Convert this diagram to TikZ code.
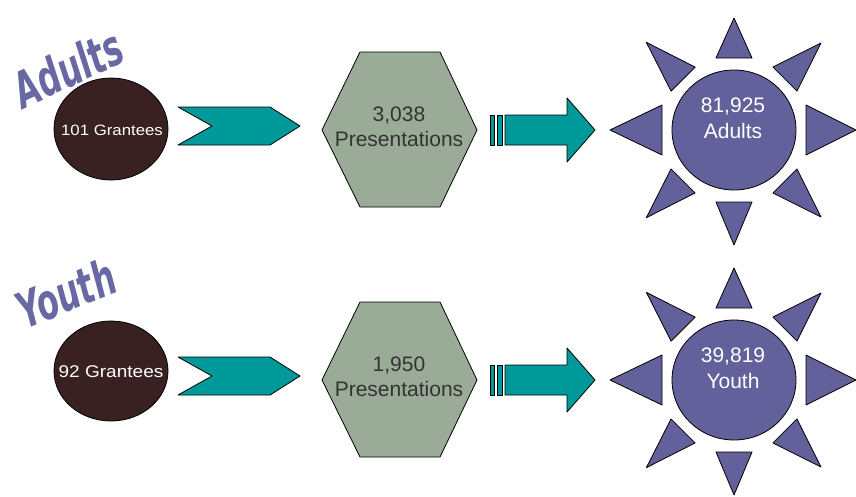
\documentclass[tikz,border=0pt]{standalone}
\usepackage{fontspec}
\setmainfont{Liberation Sans}
\newfontfamily\wafont{DejaVu Sans}
\usetikzlibrary{shapes.geometric}
\definecolor{wordc}{RGB}{104,104,164}
\definecolor{sunc}{RGB}{99,97,155}
\definecolor{granteec}{RGB}{58,33,33}
\definecolor{hexc}{RGB}{154,171,151}
\definecolor{tealc}{RGB}{0,153,153}
\tikzset{
  grantee/.style={ellipse, draw=black, line width=0.8pt, fill=granteec, minimum width=114pt, minimum height=102pt, inner sep=0pt},
  granteelbl/.style={text=white, inner sep=0pt},
  hexshape/.style={draw=black, fill=hexc, line width=0.8pt, line join=round},
  hexlbl/.style={align=center, inner sep=0pt, font=\fontsize{21}{25}\selectfont, text=black!80},
  tealshape/.style={draw=black, fill=tealc, line width=0.8pt, line join=round},
  suncore/.style={ellipse, draw=black, line width=0.8pt, fill=sunc, minimum width=124pt, minimum height=120pt, inner sep=0pt},
  sunlbl/.style={align=center, inner sep=0pt, font=\fontsize{21}{26}\selectfont, text=white},
  ray/.style={draw=black, fill=sunc, line width=0.8pt, line join=round},
  wordart/.style={text=wordc, inner sep=0pt, font=\wafont\fontsize{32}{32}\selectfont\bfseries\itshape}
}
\newcommand\flowrow[5]{%
  % #1 prefix, #2 yoffset, #3 hex number, #4 sun line1, #5 sun line2
  \begin{scope}[shift={(0,#2)}]
    % chevron
    \draw[tealshape] (178,107) -- (270,107) -- (300,126) -- (270,145) -- (178,145) -- (212,126) -- cycle;
    % hexagon
    \draw[hexshape] (360,52) -- (440,52) -- (477,130) -- (440,207) -- (360,207) -- (322,130) -- cycle;
    \node[hexlbl] (#1hex) at (399,127) {#3\\Presentations};
    % striped arrow
    \draw[tealshape] (490,115) rectangle (494,145);
    \draw[tealshape] (497,115) rectangle (502,145);
    \draw[tealshape] (505,115) -- (567,115) -- (567,98) -- (595,130) -- (567,162) -- (567,145) -- (505,145) -- cycle;
    % sun
    \foreach \a/\rr/\w in {0/122/25, 180/124/25, 90/112/18, 270/115/18, 45/123/17, 135/124/17, 225/124/17, 315/123/17}{
      \begin{scope}[shift={(734,130)}, rotate=\a]
        \draw[ray] (72,-\w) -- (\rr,0) -- (72,\w) -- cycle;
      \end{scope}
    }
    \node[suncore] (#1sun) at (734,130) {};
    \node[sunlbl] (#1sunlbl) at (733,118) {#4\\#5};
  \end{scope}
}
\begin{document}
\begin{tikzpicture}[x=1pt,y=-1pt]
  \useasboundingbox (0,0) rectangle (856,496);
  % Adults row
  \node[wordart, rotate=25] (adultsword) at (68,68) {\scalebox{1}[1.55]{Adults}};
  \node[grantee] (adultsgr) at (111,129) {};
  \node[granteelbl, font=\fontsize{15}{15}\selectfont, xscale=1.12] (adultsgrl) at (112,130) {101 Grantees};
  \flowrow{a}{0}{3,038}{81,925}{Adults}
  % Youth row
  \node[wordart, rotate=22] (youthword) at (66,293) {\scalebox{1}[1.55]{Youth}};
  \node[grantee, minimum height=100pt] (youthgr) at (111,371) {};
  \node[granteelbl, font=\fontsize{17}{17}\selectfont, xscale=1.12] (youthgrl) at (111,372) {92 Grantees};
  \flowrow{y}{250}{1,950}{39,819}{Youth}
\end{tikzpicture}
\end{document}
